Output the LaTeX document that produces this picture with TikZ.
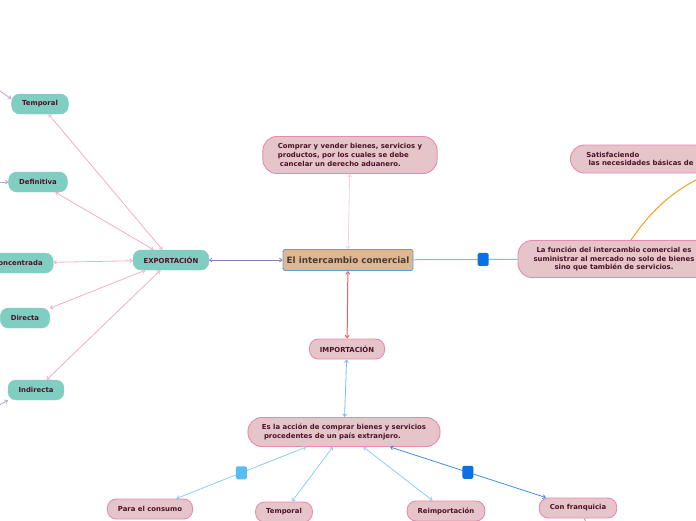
\documentclass[tikz,border=0pt]{standalone}
\usepackage{fontspec}
\setmainfont{DejaVu Sans}
\usetikzlibrary{arrows.meta, positioning}

\definecolor{tealfill}{HTML}{80CEC2}
\definecolor{pinkfill}{HTML}{E6C5CA}
\definecolor{pinkline}{HTML}{EC87B0}
\definecolor{txtmaroon}{HTML}{4A1228}
\definecolor{centerfill}{HTML}{DDB794}
\definecolor{centerline}{HTML}{5A9FD8}
\definecolor{centertxt}{HTML}{4B3B30}
\definecolor{linkpink}{HTML}{F4AECB}
\definecolor{linkpale}{HTML}{F8D0DC}
\definecolor{linkpurple}{HTML}{8C7CC4}
\definecolor{linkred}{HTML}{EE6464}
\definecolor{linkblue}{HTML}{7EBEEE}
\definecolor{linksky}{HTML}{8CCFF2}
\definecolor{linkdeep}{HTML}{3E8EE6}
\definecolor{lavender}{HTML}{B9A6D8}
\definecolor{orangelink}{HTML}{F5A020}
\definecolor{markdeep}{HTML}{0A70E4}
\definecolor{marksky}{HTML}{56BDEE}

\tikzset{
  basebox/.style={font=\bfseries\fontsize{6.9}{8.6}\selectfont, text=txtmaroon,
    minimum height=20pt, inner xsep=10.5pt, inner ysep=2pt},
  tealbox/.style={basebox, fill=tealfill, draw=tealfill, rounded corners=8pt},
  pinkbox/.style={basebox, fill=pinkfill, draw=pinkline, line width=0.9pt, rounded corners=9pt},
  pinkwide/.style={pinkbox, rounded corners=14pt, inner xsep=14pt, inner ysep=4pt},
  centerbox/.style={font=\bfseries\fontsize{8.8}{10}\selectfont, text=centertxt,
    fill=centerfill, draw=centerline, line width=0.8pt, rounded corners=2pt,
    minimum width=130pt, minimum height=21pt, inner xsep=3pt},
  link/.style={line width=0.8pt, {Straight Barb[length=2.5pt,width=4pt]}-{Straight Barb[length=2.5pt,width=4pt]}},
  inlink/.style={line width=0.8pt, lavender, -{Straight Barb[length=2.5pt,width=4pt]}},
  foldmark/.style={fill=#1, draw=none, rounded corners=1.5pt, minimum width=11pt,
    minimum height=13pt, inner sep=0pt},
}

\begin{document}
\begin{tikzpicture}[x=1pt, y=-1pt]
    \fill[white] (0,0) rectangle (696,520);
    \clip (0,0) rectangle (696,520);

    % centre
    \node[centerbox] (central) at (348,260) {El intercambio comercial};
    \node[pinkwide, align=left, minimum height=37pt, inner xsep=15pt] (comprar) at (350,155)
        {Comprar y vender bienes, servicios y\\productos, por los cuales se debe\\\hspace*{0.3em}cancelar un derecho aduanero.};
    \node[pinkwide, align=center, minimum height=37pt, minimum width=192pt] (funcion) at (614,259)
        {La función del intercambio comercial es\\suministrar al mercado no solo de bienes\\sino que también de servicios.};
    \node[pinkwide, align=left, anchor=west, minimum height=28pt, inner xsep=16pt] (satis) at (570,159)
        {Satisfaciendo\\\hspace*{0.3em}las necesidades básicas de};

    % exportacion
    \node[tealbox] (expo) at (171,260) {EXPORTACIÓN};
    \node[tealbox] (temp1) at (40,104) {Temporal};
    \node[tealbox] (defi) at (38,182) {Definitiva};
    \node[tealbox] (conc) at (18,263) {Concentrada};
    \node[tealbox] (dire) at (25,318) {Directa};
    \node[tealbox] (indi) at (36,390) {Indirecta};

    % importacion
    \node[pinkbox] (impo) at (347,349) {IMPORTACIÓN};
    \node[pinkwide, align=left, minimum height=29pt] (accion) at (344,432)
        {Es la acción de comprar bienes y servicios\\\hspace*{0.3em}procedentes de un país extranjero.};
    \node[pinkbox] (consumo) at (150,509) {Para el consumo};
    \node[pinkbox] (temp2) at (284,512) {Temporal};
    \node[pinkbox] (reimp) at (446,511) {Reimportación};
    \node[pinkbox] (franq) at (578,508) {Con franquicia};

    \coordinate (satisend) at (716,171);
    \coordinate (offT) at (-30,70);
    \coordinate (offD) at (-30,182);
    \coordinate (offI) at (-30,422);
    \coordinate (franqoff) at (608,560);

    \draw[link, linkpale] (central) -- (comprar);
    \draw[link, linkpurple] (central) -- (expo);
    \draw[link, linkred, line width=1pt] (central) -- (impo);
    \draw[line width=1pt, linkblue] (central) -- node[pos=0.67, foldmark=markdeep] (fold1) {} (funcion);
    \draw[line width=1pt, orangelink] ([xshift=17pt]funcion.north) .. controls (655,205) and (680,185) .. (satisend);

    \foreach \n in {temp1, defi, conc, dire, indi}
        \draw[link, linkpink] (expo) -- (\n);

    \draw[inlink] (offT) -- (temp1.170);
    \draw[inlink] (offD) -- (defi.west);
    \draw[inlink] (offI) -- (indi.200);

    \draw[link, linkblue] (impo) -- (accion);
    \draw[link, linksky] (accion) -- node[pos=0.5, foldmark=marksky] (fold2) {} (consumo);
    \draw[link, linksky] (accion) -- (temp2);
    \draw[link, linksky] (accion) -- (reimp);
    \draw[link, linkdeep] (accion) -- node[pos=0.5, foldmark=markdeep] (fold3) {} (franq);
    \draw[line width=0.7pt, linkblue!60!gray] (franq) -- (franqoff);
\end{tikzpicture}
\end{document}
